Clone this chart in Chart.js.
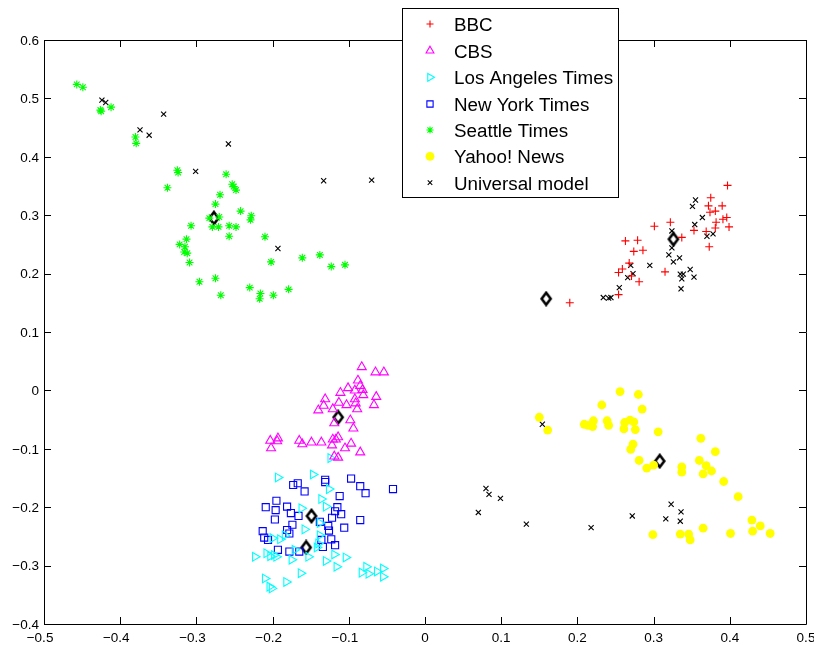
<!DOCTYPE html>
<html>
<head>
<meta charset="utf-8">
<script src="https://cdn.jsdelivr.net/npm/chart.js@4/dist/chart.umd.min.js"></script>
<style>
html,body{margin:0;padding:0;background:#fff;}
#wrap{width:814px;height:646px;position:relative;}
</style>
</head>
<body>
<div id="wrap"><canvas id="c" width="814" height="646"></canvas></div>
<script>
// ---- Data ----
const xTicks = [-0.5,-0.4,-0.3,-0.2,-0.1,0,0.1,0.2,0.3,0.4,0.5];
const yTicks = [-0.4,-0.3,-0.2,-0.1,0,0.1,0.2,0.3,0.4,0.5,0.6];
const seriesNames = ["BBC","CBS","Los Angeles Times","New York Times","Seattle Times","Yahoo! News","Universal model"];

const bbc = [[0.397,0.351],[0.375,0.330],[0.372,0.316],[0.390,0.316],[0.374,0.305],[0.381,0.307],[0.396,0.296],[0.391,0.293],[0.382,0.288],[0.399,0.280],[0.381,0.278],[0.369,0.272],[0.353,0.274],[0.373,0.246],[0.322,0.288],[0.301,0.281],[0.337,0.262],[0.263,0.256],[0.279,0.257],[0.274,0.238],[0.286,0.240],[0.268,0.218],[0.259,0.208],[0.254,0.202],[0.271,0.196],[0.281,0.186],[0.315,0.203],[0.254,0.164],[0.190,0.150]];

const cbs = [[-0.083,0.040],[-0.065,0.031],[-0.054,0.031],[-0.088,0.017],[-0.085,0.008],[-0.101,0.004],[-0.111,-0.004],[-0.092,0.000],[-0.082,0.001],[-0.081,-0.008],[-0.064,-0.011],[-0.131,-0.015],[-0.092,-0.015],[-0.091,-0.022],[-0.113,-0.021],[-0.133,-0.026],[-0.103,-0.025],[-0.067,-0.025],[-0.121,-0.032],[-0.140,-0.034],[-0.089,-0.032],[-0.098,-0.051],[-0.119,-0.056],[-0.094,-0.065],[-0.203,-0.086],[-0.193,-0.082],[-0.194,-0.087],[-0.202,-0.099],[-0.165,-0.086],[-0.161,-0.092],[-0.149,-0.089],[-0.136,-0.089],[-0.121,-0.084],[-0.114,-0.080],[-0.117,-0.084],[-0.122,-0.094],[-0.105,-0.099],[-0.097,-0.091],[-0.085,-0.106],[-0.119,-0.113],[-0.114,-0.115]];

const laTimes = [[-0.124,-0.116],[-0.193,-0.149],[-0.147,-0.144],[-0.126,-0.169],[-0.136,-0.186],[-0.130,-0.199],[-0.162,-0.202],[-0.158,-0.238],[-0.138,-0.248],[-0.138,-0.227],[-0.223,-0.285],[-0.208,-0.279],[-0.203,-0.284],[-0.195,-0.285],[-0.200,-0.253],[-0.190,-0.255],[-0.184,-0.248],[-0.175,-0.290],[-0.163,-0.313],[-0.210,-0.322],[-0.204,-0.336],[-0.201,-0.339],[-0.182,-0.328],[-0.153,-0.285],[-0.130,-0.292],[-0.119,-0.281],[-0.104,-0.286],[-0.116,-0.302],[-0.083,-0.312],[-0.077,-0.302],[-0.074,-0.314],[-0.063,-0.310],[-0.055,-0.305],[-0.055,-0.319],[-0.142,-0.269],[-0.171,-0.273],[-0.140,-0.262],[-0.198,-0.282]];

const nyTimes = [[-0.173,-0.162],[-0.167,-0.159],[-0.158,-0.173],[-0.131,-0.153],[-0.131,-0.157],[-0.097,-0.151],[-0.085,-0.164],[-0.078,-0.176],[-0.042,-0.169],[-0.112,-0.181],[-0.209,-0.200],[-0.195,-0.189],[-0.196,-0.205],[-0.181,-0.199],[-0.176,-0.210],[-0.166,-0.215],[-0.197,-0.221],[-0.174,-0.230],[-0.181,-0.239],[-0.178,-0.245],[-0.213,-0.241],[-0.211,-0.252],[-0.206,-0.256],[-0.193,-0.273],[-0.178,-0.276],[-0.165,-0.276],[-0.115,-0.200],[-0.118,-0.207],[-0.110,-0.212],[-0.122,-0.218],[-0.138,-0.225],[-0.127,-0.232],[-0.126,-0.240],[-0.106,-0.235],[-0.085,-0.222],[-0.136,-0.256],[-0.134,-0.268],[-0.123,-0.255],[-0.118,-0.265]];

const seattleTimes = [[-0.457,0.524],[-0.449,0.519],[-0.426,0.480],[-0.425,0.478],[-0.412,0.485],[-0.380,0.434],[-0.379,0.423],[-0.325,0.377],[-0.324,0.373],[-0.338,0.347],[-0.261,0.370],[-0.253,0.353],[-0.251,0.349],[-0.248,0.343],[-0.269,0.335],[-0.275,0.319],[-0.242,0.307],[-0.228,0.299],[-0.229,0.292],[-0.283,0.295],[-0.270,0.297],[-0.279,0.280],[-0.271,0.280],[-0.257,0.282],[-0.248,0.280],[-0.307,0.282],[-0.257,0.264],[-0.313,0.259],[-0.322,0.250],[-0.315,0.246],[-0.316,0.237],[-0.312,0.235],[-0.309,0.219],[-0.210,0.263],[-0.202,0.220],[-0.161,0.227],[-0.138,0.232],[-0.123,0.212],[-0.105,0.215],[-0.296,0.186],[-0.275,0.192],[-0.268,0.163],[-0.230,0.176],[-0.216,0.166],[-0.217,0.157],[-0.199,0.163],[-0.179,0.173]];

const yahooNews = [[0.256,-0.002],[0.280,-0.007],[0.285,-0.032],[0.232,-0.025],[0.150,-0.046],[0.161,-0.068],[0.209,-0.058],[0.221,-0.052],[0.220,-0.062],[0.214,-0.060],[0.239,-0.052],[0.241,-0.060],[0.262,-0.055],[0.269,-0.051],[0.274,-0.054],[0.261,-0.066],[0.276,-0.067],[0.306,-0.071],[0.273,-0.092],[0.270,-0.101],[0.281,-0.120],[0.291,-0.133],[0.300,-0.128],[0.362,-0.082],[0.381,-0.105],[0.360,-0.120],[0.369,-0.129],[0.337,-0.131],[0.337,-0.140],[0.376,-0.138],[0.365,-0.143],[0.392,-0.156],[0.411,-0.182],[0.429,-0.222],[0.440,-0.232],[0.430,-0.241],[0.453,-0.245],[0.401,-0.245],[0.365,-0.236],[0.335,-0.246],[0.346,-0.246],[0.348,-0.256],[0.299,-0.247]];

const universalModel = [[-0.424,0.497],[-0.419,0.493],[-0.343,0.473],[-0.374,0.446],[-0.362,0.437],[-0.258,0.422],[-0.301,0.375],[-0.133,0.359],[-0.070,0.360],[-0.193,0.243],
[0.355,0.326],[0.351,0.315],[0.364,0.296],[0.354,0.284],[0.324,0.273],[0.370,0.264],[0.378,0.268],[0.324,0.244],[0.320,0.232],[0.334,0.227],[0.326,0.220],[0.295,0.214],[0.270,0.214],[0.273,0.200],[0.266,0.193],[0.335,0.199],[0.339,0.199],[0.337,0.191],[0.348,0.207],[0.353,0.194],[0.336,0.174],[0.255,0.176],[0.234,0.159],[0.241,0.158],[0.244,0.159],
[0.154,-0.058],[0.080,-0.168],[0.084,-0.178],[0.099,-0.185],[0.070,-0.209],[0.133,-0.229],[0.218,-0.235],[0.272,-0.215],[0.323,-0.195],[0.336,-0.208],[0.316,-0.220],[0.335,-0.224]];

const centroids = [[-0.277,0.295],[0.326,0.259],[0.159,0.157],[-0.114,-0.046],[-0.149,-0.215],[-0.156,-0.269],[0.308,-0.121]];

// ---- Drawing ----
function pts(a){ return a.map(p => ({x:p[0], y:p[1]})); }
function digits(v){
  const r = Math.round(v*10)/10;
  if (Math.abs(r) < 1e-9) return "0";
  return Math.abs(r).toFixed(1);
}
function isNeg(v){ return Math.round(v*10)/10 < -1e-9; }
function fmt(v){ return (isNeg(v) ? "\u2212" : "") + digits(v); }

// tall diamond marker like MATLAB 'd'
function diamondImg(){
  const c = document.createElement('canvas');
  c.width = 14; c.height = 16;
  const g = c.getContext('2d');
  g.strokeStyle = '#000'; g.lineWidth = 2.6;
  g.beginPath(); g.moveTo(7,2); g.lineTo(11.5,8); g.lineTo(7,14); g.lineTo(2.5,8); g.closePath(); g.stroke();
  return c;
}
const diamond = diamondImg();

const styles = [
  {data:bbc, pointStyle:'cross', radius:4, color:'#ff0000', fill:false, rot:0},
  {data:cbs, pointStyle:'triangle', radius:5.2, color:'#ff00ff', fill:false, rot:0},
  {data:laTimes, pointStyle:'triangle', radius:5, color:'#00ffff', fill:false, rot:90},
  {data:nyTimes, pointStyle:'rect', radius:5, color:'#0000ff', fill:false, rot:0},
  {data:seattleTimes, pointStyle:'star', radius:4, color:'#00ff00', fill:false, rot:0},
  {data:yahooNews, pointStyle:'circle', radius:4.4, color:'#ffff00', fill:true, rot:0},
  {data:universalModel, pointStyle:'crossRot', radius:3.6, color:'#000000', fill:false, rot:0}
];

const datasets = styles.map((s,i) => ({
  label: seriesNames[i],
  data: pts(s.data),
  pointStyle: s.pointStyle,
  pointRadius: s.radius,
  pointRotation: s.rot,
  pointBorderColor: s.color,
  pointBackgroundColor: s.fill ? s.color : 'rgba(0,0,0,0)',
  pointBorderWidth: s.fill ? 0 : 1.1,
  showLine: false
}));
datasets.push({
  label: 'centroids',
  data: pts(centroids),
  pointStyle: diamond,
  pointRadius: 7,
  showLine: false
});

const FONT = '13.5px "Liberation Sans", Arial, sans-serif';

const frame = {
  id: 'frame',
  afterDatasetsDraw(chart){
    const ctx = chart.ctx, a = chart.chartArea;
    const xs = chart.scales.x, ys = chart.scales.y;
    ctx.save();
    ctx.strokeStyle = '#000'; ctx.lineWidth = 1;
    ctx.beginPath();
    ctx.rect(Math.round(a.left)+0.5, Math.round(a.top)+0.5, Math.round(a.right-a.left), Math.round(a.bottom-a.top));
    const L = 7;
    xTicks.forEach(v => {
      const px = Math.round(xs.getPixelForValue(v))+0.5;
      ctx.moveTo(px, a.bottom); ctx.lineTo(px, a.bottom-L);
      ctx.moveTo(px, a.top); ctx.lineTo(px, a.top+L);
    });
    yTicks.forEach(v => {
      const py = Math.round(ys.getPixelForValue(v))+0.5;
      ctx.moveTo(a.left, py); ctx.lineTo(a.left+L, py);
      ctx.moveTo(a.right, py); ctx.lineTo(a.right-L, py);
    });
    ctx.stroke();

    // tick labels (MATLAB style: digits centred, minus hangs left)
    ctx.fillStyle = '#000';
    ctx.font = FONT;
    ctx.textBaseline = 'middle';
    xTicks.forEach(v => {
      const px = xs.getPixelForValue(v);
      const d = digits(v);
      const w = ctx.measureText(d).width;
      ctx.textAlign = 'left';
      ctx.fillText(fmt(v), isNeg(v) ? px - w/2 - ctx.measureText("\u2212").width : px - w/2, a.bottom + 14);
    });
    yTicks.forEach(v => {
      const py = ys.getPixelForValue(v);
      ctx.textAlign = 'right';
      ctx.fillText(fmt(v), a.left - 5, py + 1);
    });

    // legend box
    const bx=402, by=8, bw=216, bh=189;
    ctx.fillStyle = '#fff';
    ctx.fillRect(bx, by, bw, bh);
    ctx.strokeRect(bx+0.5, by+0.5, bw, bh);
    const rowY = [24, 50.7, 77.3, 104, 130, 156.3, 182.7];
    const legendStyles = [
      {ps:'cross', r:3.5, c:'#ff0000', f:false, rot:0},
      {ps:'triangle', r:4.5, c:'#ff00ff', f:false, rot:0},
      {ps:'triangle', r:4.5, c:'#00ffff', f:false, rot:90},
      {ps:'rect', r:4.4, c:'#0000ff', f:false, rot:0},
      {ps:'star', r:3.6, c:'#00ff00', f:false, rot:0},
      {ps:'circle', r:4.4, c:'#ffff00', f:true, rot:0},
      {ps:'crossRot', r:3.2, c:'#000000', f:false, rot:0}
    ];
    legendStyles.forEach((s,i) => {
      ctx.save();
      ctx.strokeStyle = s.c; ctx.fillStyle = s.f ? s.c : 'rgba(0,0,0,0)';
      ctx.lineWidth = s.f ? 0 : 1.1;
      Chart.helpers.drawPoint(ctx, {pointStyle:s.ps, radius:s.r, rotation:s.rot, borderWidth: s.f?0:1.1}, 430, rowY[i]);
      ctx.restore();
      ctx.fillStyle = '#000';
      ctx.font = '18.8px "Liberation Sans", Arial, sans-serif';
      ctx.textBaseline = 'alphabetic';
      ctx.textAlign = 'left';
      ctx.fillText(seriesNames[i], 454, rowY[i]+6.8);
    });
    ctx.restore();
  }
};

new Chart(document.getElementById('c'), {
  type: 'scatter',
  data: { datasets },
  options: {
    responsive: false,
    animation: false,
    layout: { padding: { left: 0, right: 8, top: 40, bottom: 0 } },
    plugins: { legend: { display: false }, tooltip: { enabled: false } },
    scales: {
      x: {
        type: 'linear', min: -0.5, max: 0.5,
        afterBuildTicks: s => { s.ticks = xTicks.map(v => ({value:v})); },
        afterFit: s => { s.height = 22; },
        grid: { display: false, drawTicks: false },
        border: { display: false },
        ticks: { display: false }
      },
      y: {
        type: 'linear', min: -0.4, max: 0.6,
        afterBuildTicks: s => { s.ticks = yTicks.map(v => ({value:v})); },
        afterFit: s => { s.width = 44; },
        grid: { display: false, drawTicks: false },
        border: { display: false },
        ticks: { display: false }
      }
    }
  },
  plugins: [frame]
});
</script>
</body>
</html>
